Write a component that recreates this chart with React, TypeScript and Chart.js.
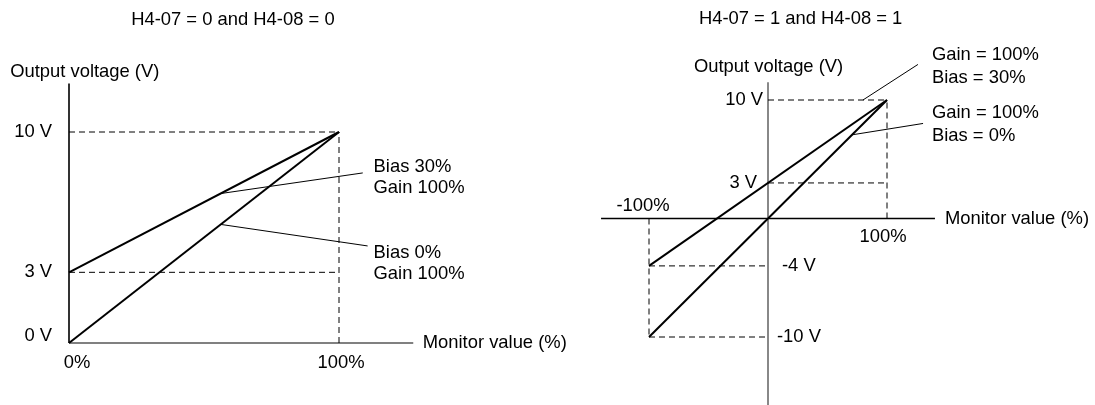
import React, { useEffect, useRef } from "react";
import { Chart, registerables } from "chart.js";

Chart.register(...registerables);

// ---------- Left panel data (H4-07 = 0, H4-08 = 0) ----------
const LEFT_TITLE = "H4-07 = 0 and H4-08 = 0";
const LEFT_MONITOR = [0, 100];
const LEFT_BIAS0_V = [0, 10];
const LEFT_BIAS30_V = [3.35, 10];
const LEFT_Y_TICKS = [0, 3.35, 10];
const LEFT_Y_TICK_LABELS = ["0 V", "3 V", "10 V"];
const LEFT_X_TICKS = [0, 100];
const LEFT_X_TICK_LABELS = ["0%", "100%"];

// ---------- Right panel data (H4-07 = 1, H4-08 = 1) ----------
const RIGHT_TITLE = "H4-07 = 1 and H4-08 = 1";
const RIGHT_MONITOR = [-100, 100];
const RIGHT_BIAS0_V = [-10, 10];
const RIGHT_BIAS30_V = [-4, 10];
const RIGHT_Y_TICKS_POS = [3, 10];
const RIGHT_Y_TICK_LABELS_POS = ["3 V", "10 V"];
const RIGHT_Y_TICKS_NEG = [-4, -10];
const RIGHT_Y_TICK_LABELS_NEG = ["-4 V", "-10 V"];
const RIGHT_X_TICKS = [-100, 100];
const RIGHT_X_TICK_LABELS = ["-100%", "100%"];

const FONT = '18.4px "Liberation Sans", Arial, sans-serif';

type Txt = {
  text: string;
  x: number;
  y: number;
  dx?: number;
  dy?: number;
  align?: CanvasTextAlign;
};

const textPlugin = {
  id: "textLabels",
  afterDraw(chart: any, _args: any, opts: any) {
    const ctx = chart.ctx;
    const xs = chart.scales.x;
    const ys = chart.scales.y;
    ctx.save();
    ctx.font = FONT;
    ctx.fillStyle = "#000";
    ctx.textBaseline = "middle";
    (opts.items as Txt[]).forEach((t) => {
      ctx.textAlign = t.align || "left";
      ctx.fillText(
        t.text,
        xs.getPixelForValue(t.x) + (t.dx || 0),
        ys.getPixelForValue(t.y) + (t.dy || 0)
      );
    });
    ctx.restore();
  },
};

const seg = (
  pts: [number, number][],
  color: string,
  width: number,
  dash: number[] = []
) => ({
  data: pts.map(([x, y]) => ({ x, y })),
  borderColor: color,
  borderWidth: width,
  borderDash: dash,
  pointRadius: 0,
  showLine: true,
  fill: false,
  tension: 0,
  clip: false as const,
});

const DASH = [6, 4];

function buildLeft() {
  const [x0, x1] = LEFT_MONITOR;
  const datasets = [
    seg([[x0, LEFT_BIAS0_V[0]], [x1, LEFT_BIAS0_V[1]]], "#000", 2),
    seg([[x0, LEFT_BIAS30_V[0]], [x1, LEFT_BIAS30_V[1]]], "#000", 2),
    // leader lines
    seg([[56, 7.08], [108.8, 8.06]], "#000", 1),
    seg([[56.2, 5.62], [110.6, 4.6]], "#000", 1),
    // guides
    seg([[x0, LEFT_BIAS0_V[1]], [x1, LEFT_BIAS0_V[1]]], "#000", 1, DASH),
    seg([[x0, LEFT_BIAS30_V[0]], [x1, LEFT_BIAS30_V[0]]], "#000", 1, DASH),
    seg([[x1, 0], [x1, LEFT_BIAS0_V[1]]], "#000", 1, DASH),
    // axes
    seg([[0, 0], [0, 12.3]], "#333", 2),
    seg([[0, 0], [127.5, 0]], "#808080", 2),
  ];
  const items: Txt[] = [
    { text: LEFT_TITLE, x: 60.7, y: 15.3, align: "center" },
    { text: "Output voltage (V)", x: -21.8, y: 12.84 },
    { text: "Monitor value (%)", x: 131, y: 0 },
    { text: "Bias 30%", x: 112.8, y: 8.34 },
    { text: "Gain 100%", x: 112.8, y: 7.35 },
    { text: "Bias 0%", x: 112.8, y: 4.27 },
    { text: "Gain 100%", x: 112.8, y: 3.27 },
  ];
  LEFT_Y_TICKS.forEach((v, i) =>
    items.push({
      text: LEFT_Y_TICK_LABELS[i],
      x: 0,
      y: v,
      dx: -17,
      dy: v === 0 ? -7 : 0,
      align: "right",
    })
  );
  LEFT_X_TICKS.forEach((v, i) =>
    items.push({
      text: LEFT_X_TICK_LABELS[i],
      x: v,
      y: 0,
      dx: v === 0 ? 8 : 2,
      dy: 20,
      align: "center",
    })
  );
  return { datasets, items, pad: { left: 69, right: 241, top: 132, bottom: 62 }, x: [0, 100], y: [0, 10] };
}

function buildRight() {
  const [x0, x1] = RIGHT_MONITOR;
  const datasets = [
    seg([[x0, RIGHT_BIAS0_V[0]], [x1, RIGHT_BIAS0_V[1]]], "#000", 2),
    seg([[x0, RIGHT_BIAS30_V[0]], [x1, RIGHT_BIAS30_V[1]]], "#000", 2),
    // leader lines
    seg([[79.8, 10], [126, 13.0]], "#000", 1),
    seg([[70.6, 7.06], [130.3, 8.02]], "#000", 1),
    // guides
    seg([[0, 10], [x1, 10]], "#000", 1, DASH),
    seg([[0, 3], [x1, 3]], "#000", 1, DASH),
    seg([[x1, 0], [x1, 10]], "#000", 1, DASH),
    seg([[x0, -4], [0, -4]], "#000", 1, DASH),
    seg([[x0, -10], [0, -10]], "#000", 1, DASH),
    seg([[x0, 0], [x0, -10]], "#000", 1, DASH),
    // axes
    seg([[0, -17], [0, 11.5]], "#888", 2),
    seg([[-140.3, 0], [140.3, 0]], "#000", 1.5),
  ];
  const items: Txt[] = [
    { text: RIGHT_TITLE, x: 27.4, y: 16.8, align: "center" },
    { text: "Output voltage (V)", x: -62.2, y: 12.83 },
    { text: "Monitor value (%)", x: 148.7, y: 0 },
    { text: "Gain = 100%", x: 137.8, y: 13.84 },
    { text: "Bias = 30%", x: 137.8, y: 11.9 },
    { text: "Gain = 100%", x: 137.8, y: 8.95 },
    { text: "Bias = 0%", x: 137.8, y: 7.0 },
  ];
  RIGHT_Y_TICKS_POS.forEach((v, i) =>
    items.push({ text: RIGHT_Y_TICK_LABELS_POS[i], x: 0, y: v, dx: v === 3 ? -11 : -5, align: "right" })
  );
  RIGHT_Y_TICKS_NEG.forEach((v, i) =>
    items.push({ text: RIGHT_Y_TICK_LABELS_NEG[i], x: 0, y: v, dx: v === -4 ? 14 : 9, align: "left" })
  );
  RIGHT_X_TICKS.forEach((v, i) =>
    items.push({
      text: RIGHT_X_TICK_LABELS[i],
      x: v,
      y: 0,
      dx: v < 0 ? -6 : -4,
      dy: v < 0 ? -13 : 18,
      align: "center",
    })
  );
  return { datasets, items, pad: { left: 69, right: 208, top: 100, bottom: 68 }, x: [-100, 100], y: [-10, 10] };
}

function Panel({ build, width, left }: { build: () => any; width: number; left: number }) {
  const ref = useRef<HTMLCanvasElement | null>(null);
  useEffect(() => {
    if (!ref.current) return;
    const cfg = build();
    const chart = new Chart(ref.current, {
      type: "scatter",
      data: { datasets: cfg.datasets },
      options: {
        animation: false,
        responsive: false,
        devicePixelRatio: 1,
        layout: { padding: cfg.pad },
        scales: {
          x: { type: "linear", min: cfg.x[0], max: cfg.x[1], display: false },
          y: { type: "linear", min: cfg.y[0], max: cfg.y[1], display: false },
        },
        plugins: {
          legend: { display: false },
          tooltip: { enabled: false },
          title: { display: false },
          textLabels: { items: cfg.items },
        } as any,
      },
      plugins: [textPlugin],
    });
    return () => chart.destroy();
  }, []);
  return (
    <canvas
      ref={ref}
      width={width}
      height={405}
      style={{ position: "absolute", left, top: 0, width, height: 405 }}
    />
  );
}

export default function App() {
  return (
    <div
      style={{
        position: "absolute",
        left: 0,
        top: 0,
        width: 1095,
        height: 405,
        background: "#fff",
        overflow: "hidden",
      }}
    >
      <Panel build={buildLeft} width={580} left={0} />
      <Panel build={buildRight} width={515} left={580} />
    </div>
  );
}
